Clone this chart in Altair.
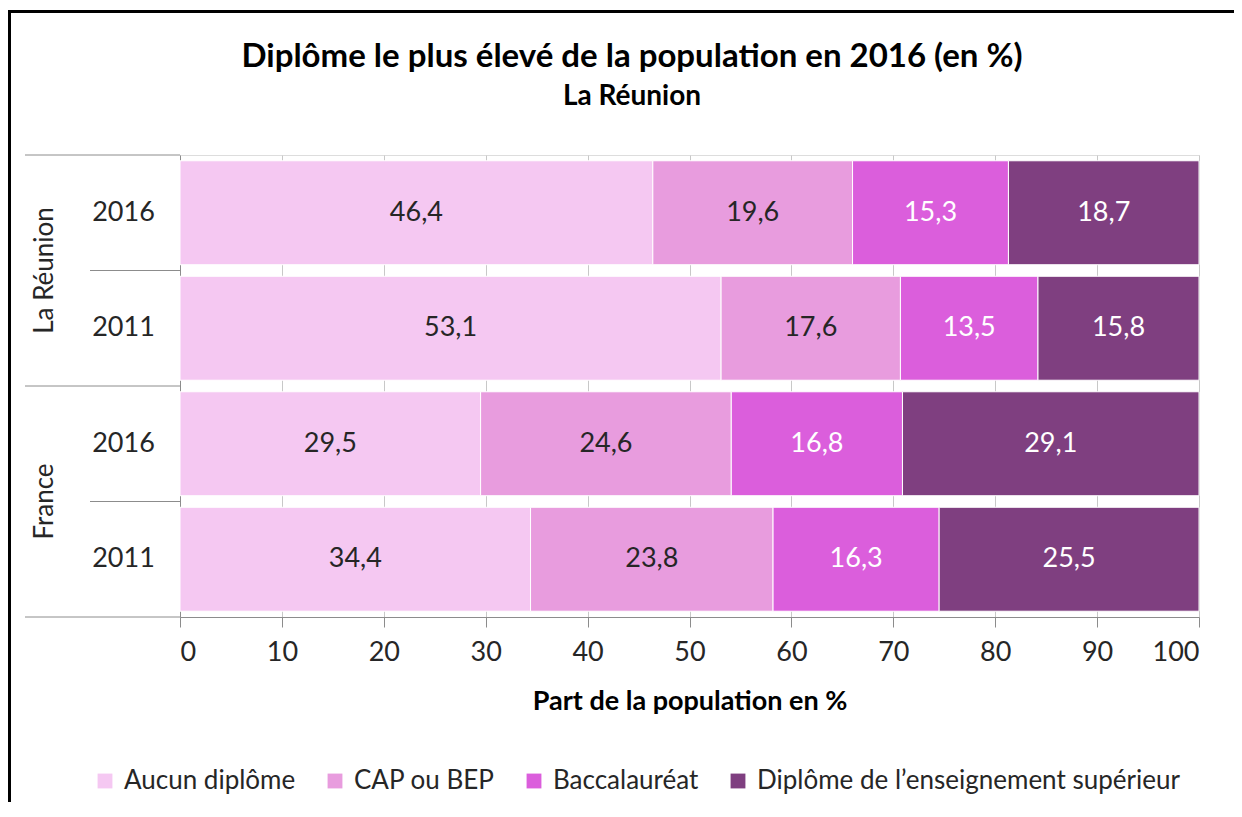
import altair as alt
import pandas as pd

# ---- data ----
title_text = "Diplôme le plus élevé de la population en 2016 (en %)"
subtitle_text = "La Réunion"
regions = ["La Réunion", "La Réunion", "France", "France"]
years = ["2016", "2011", "2016", "2011"]
categories = ["Aucun diplôme", "CAP ou BEP", "Baccalauréat",
              "Diplôme de l’enseignement supérieur"]
aucun = [46.4, 53.1, 29.5, 34.4]
cap_bep = [19.6, 17.6, 24.6, 23.8]
bac = [15.3, 13.5, 16.8, 16.3]
sup = [18.7, 15.8, 29.1, 25.5]
colors = ["#F5C8F2", "#E89CDE", "#DB5EDC", "#7F3F80"]
x_ticks = [0, 10, 20, 30, 40, 50, 60, 70, 80, 90, 100]

FONT = "Lato"
TXT = "#262626"
FS = 27
W, H = 1019, 462
PAD_L, PAD_T, PAD_R, PAD_B = 172, 147, 35, 185

series = [aucun, cap_bep, bac, sup]
rows = [f"{r} {y}" for r, y in zip(regions, years)]
records = []
for ci, (cat, vals) in enumerate(zip(categories, series)):
    for ri, row in enumerate(rows):
        records.append({
            "row": row, "cat": cat, "order": ci, "value": vals[ri],
            "label": f"{vals[ri]:.1f}".replace(".", ","),
        })
df = pd.DataFrame(records)

# group structure for the hierarchical axis
group_names, group_bounds, inner_bounds, centers = [], [0], [], []
start = 0
for i, r in enumerate(regions):
    if i == len(regions) - 1 or regions[i + 1] != r:
        group_names.append(r)
        centers.append((start + i + 1) / 2)
        group_bounds.append(i + 1)
        start = i + 1
    else:
        inner_bounds.append(i + 1)
groups_df = pd.DataFrame({"region": group_names, "center": centers})
gb_df = pd.DataFrame({"b": group_bounds})
ib_df = pd.DataFrame({"b": inner_bounds})

qy = alt.Scale(domain=[0, len(rows)], reverse=True, nice=False, zero=False)

y_band = alt.Y(
    "row:N", sort=rows,
    scale=alt.Scale(paddingInner=0.1, paddingOuter=0.05),
    axis=alt.Axis(title=None, ticks=False, domain=True, domainColor="#8C8C8C",
                  labelExpr="slice(datum.label, -4)", labelAlign="center",
                  labelBaseline="middle", labelPadding=57, labelFontSize=FS,
                  labelFont=FONT, labelColor=TXT),
)

base = alt.Chart(df).transform_stack(
    stack="value", groupby=["row"], as_=["v0", "v1"],
    sort=[alt.SortField("order", order="ascending")],
).transform_calculate(mid="(datum.v0 + datum.v1) / 2")

bars = base.mark_bar(stroke="white", strokeWidth=1).encode(
    x=alt.X("v0:Q", scale=alt.Scale(domain=[0, 100], nice=False),
            axis=alt.Axis(values=x_ticks, title="Part de la population en %",
                          grid=True, gridColor="#C8C8C8", domainColor="#8C8C8C",
                          tickColor="#8C8C8C", tickSize=10, labelPadding=12,
                          labelFontSize=FS, labelFont=FONT, labelColor=TXT,
                          titleFontSize=FS, titleFont=FONT, titleFontWeight="bold",
                          titleColor="black", titlePadding=23)),
    x2="v1:Q",
    y=y_band,
    color=alt.Color("cat:N", sort=categories,
                    scale=alt.Scale(domain=categories, range=colors),
                    legend=alt.Legend(title=None, orient="none", direction="horizontal",
                                      legendX=-88, legendY=613, symbolType="square",
                                      symbolSize=220, symbolStrokeWidth=0,
                                      labelFontSize=26, labelFont=FONT, labelColor=TXT,
                                      labelLimit=600, columnPadding=26, labelOffset=6)),
    order=alt.Order("order:Q"),
)

labels = base.mark_text(fontSize=FS, font=FONT, baseline="middle").encode(
    x="mid:Q",
    y=alt.Y("row:N", sort=rows),
    text="label:N",
    color=alt.condition("datum.order >= 2", alt.value("white"), alt.value(TXT)),
)

band_layer = alt.layer(bars, labels)

group_lines = alt.Chart(gb_df).mark_rule(color="#8C8C8C", strokeWidth=1).encode(
    y=alt.Y("b:Q", scale=qy, axis=None), x=alt.value(-155), x2=alt.value(0))
inner_lines = alt.Chart(ib_df).mark_rule(color="#8C8C8C", strokeWidth=1).encode(
    y=alt.Y("b:Q", scale=qy, axis=None), x=alt.value(-90), x2=alt.value(0))
group_text = alt.Chart(groups_df).mark_text(
    angle=270, fontSize=FS - 1, font=FONT, color=TXT, baseline="middle", align="center"
).encode(y=alt.Y("center:Q", scale=qy, axis=None), x=alt.value(-135), text="region:N")

titles_df = pd.DataFrame({"t": [title_text]})
subtitles_df = pd.DataFrame({"t": [subtitle_text]})
title_mark = alt.Chart(titles_df).mark_text(
    fontSize=33, font=FONT, fontWeight="bold", color="black",
    align="center", baseline="middle").encode(
    text="t:N", x=alt.value(452), y=alt.value(-98))
subtitle_mark = alt.Chart(subtitles_df).mark_text(
    fontSize=28, font=FONT, fontWeight="bold", color="black",
    align="center", baseline="middle").encode(
    text="t:N", x=alt.value(452), y=alt.value(-58))

frame_df = pd.DataFrame({"k": [0]})
frame_top = alt.Chart(frame_df).mark_rule(color="black", strokeWidth=3).encode(
    x=alt.value(-170.5), x2=alt.value(W + PAD_R), y=alt.value(-143.5))
frame_left = alt.Chart(frame_df).mark_rule(color="black", strokeWidth=3).encode(
    x=alt.value(-170.5), y=alt.value(-145), y2=alt.value(H + PAD_B))

chart = alt.layer(
    band_layer, group_lines, inner_lines, group_text,
    title_mark, subtitle_mark, frame_top, frame_left
).resolve_scale(y="independent").properties(
    width=W, height=H,
    autosize=alt.AutoSizeParams(type="none"),
    padding={"left": PAD_L, "top": PAD_T, "right": PAD_R, "bottom": PAD_B},
).configure_view(stroke=None).configure(background="white")

chart.save("out.html", embed_options={"renderer": "svg", "actions": False})
